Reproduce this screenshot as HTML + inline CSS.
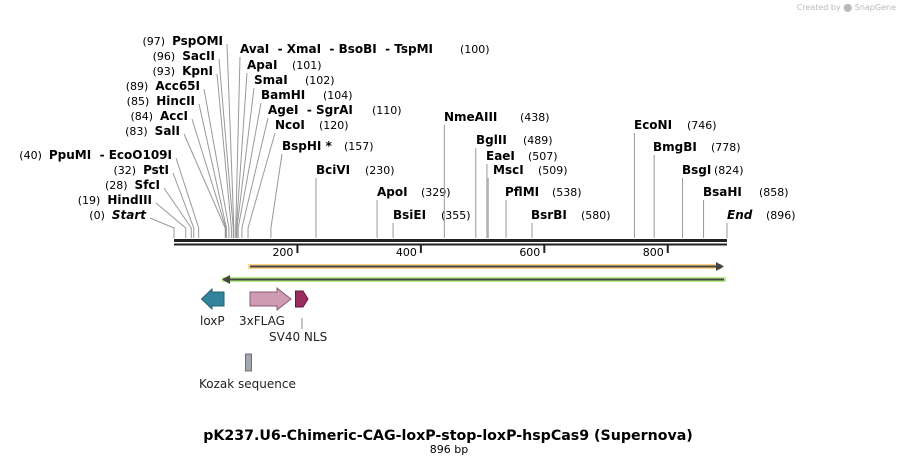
<!DOCTYPE html>
<html><head><meta charset="utf-8">
<style>
html,body{margin:0;padding:0;background:#fff;}
svg{display:block;font-family:"DejaVu Sans","Liberation Sans",sans-serif;}
svg text{white-space:pre;}
.n{font-weight:bold;font-size:12px;fill:#000;}
.p{font-size:11px;fill:#000;}
.f{font-size:12px;fill:#222;}
</style></head>
<body>
<svg id="map" width="902" height="465" viewBox="0 0 902 465">
<text x="896" y="10" text-anchor="end" font-size="8" fill="#bbb">Created by ⬤ SnapGene</text>
<g id="sites"></g>
<g id="ruler"></g>
<g>
  <rect x="248" y="264" width="474" height="5" fill="#fbd38a"/>
  <line x1="250" y1="266.5" x2="718" y2="266.5" stroke="#444" stroke-width="2"/>
  <polygon points="716,262 724,266.5 716,271" fill="#444"/>
  <rect x="222" y="277" width="504" height="5" fill="#b7ef84"/>
  <line x1="228" y1="279.5" x2="724" y2="279.5" stroke="#444" stroke-width="2"/>
  <polygon points="230,275 222,279.5 230,284" fill="#444"/>
  <polygon points="224,292 212,292 212,289 201.5,299 212,309 212,306 224,306" fill="#31849b" stroke="#23606f"/>
  <polygon points="250,292 277,292 277,288 291,299 277,310 277,306 250,306" fill="#cf9ab4" stroke="#8a5a72"/>
  <polygon points="295.5,291 303,291 308,299 303,307 295.5,307" fill="#9b2c5e" stroke="#5e1a38"/>
  <text x="200" y="325" class="f">loxP</text>
  <text x="239" y="325" class="f">3xFLAG</text>
  <line x1="302" y1="318" x2="302" y2="329" stroke="#888"/>
  <text x="269" y="341" class="f">SV40 NLS</text>
  <rect x="245.5" y="354" width="6" height="17" fill="#a3a8b0" stroke="#555" stroke-width="0.8"/>
  <text x="199" y="388" class="f">Kozak sequence</text>
</g>
<text x="448" y="440" text-anchor="middle" font-weight="bold" font-size="14.2" fill="#000">pK237.U6-Chimeric-CAG-loxP-stop-loxP-hspCas9 (Supernova)</text>
<text x="449" y="453" text-anchor="middle" font-size="11" fill="#000">896 bp</text>
</svg>
<script>
const siteNames = ["Start","HindIII","SfcI","PstI","PpuMI  - EcoO109I","SalI","AccI","HincII","Acc65I","KpnI","SacII","PspOMI",
 "AvaI  - XmaI  - BsoBI  - TspMI","ApaI","SmaI","BamHI","AgeI  - SgrAI","NcoI","BspHI*","BciVI","ApoI","BsiEI",
 "NmeAIII","BglII","EaeI","MscI","PflMI","BsrBI","EcoNI","BmgBI","BsgI","BsaHI","End"];
const sitePositions = [0,19,28,32,40,83,84,85,89,93,96,97,100,101,102,104,110,120,157,230,329,355,438,489,507,509,538,580,746,778,824,858,896];
const tickValues = [200,400,600,800];
const seqLength = 896;
// label layout (not data): side, label x, label y, position-text x
const labelLayout = [
 ["L",146,215],["L",152,200],["L",160,185],["L",169,170],["L",172,155],["L",180,131],["L",188,116],["L",195,101],["L",200,86],["L",213,71],["L",215,56],["L",223,41],
 ["R",240,49,460],["R",247,65,292],["R",254,80,305],["R",261,95,323],["R",268,110,372],["R",275,125,319],["R",282,146,344],["V",316,170,365],["V",377,192,421],["V",393,215,441],
 ["V",444,117,520],["V",476,140,523],["V",486,156,528],["V",493,170,538],["V",505,192,552],["V",531,215,581],["V",634,125,687],["V",653,147,711],["V",682,170,714],["V",703,192,759],["V",727,215,766]];
const X0 = 174, XS = 553/896;
const xScale = bp => X0 + bp * XS;
const NS = "http://www.w3.org/2000/svg";
function mk(tag, attrs, parent){const e=document.createElementNS(NS,tag);for(const k in attrs)e.setAttribute(k,attrs[k]);parent.appendChild(e);return e;}
const sg = document.getElementById('sites');
siteNames.forEach((nm,i)=>{
  const [side,lx,ly,px] = labelLayout[i];
  const xs = xScale(sitePositions[i]);
  const g = mk('g',{},sg);
  
  
  let pts;
  if(side==='L') pts = `${lx+4},${ly+3} ${xs},228 ${xs},238`;
  else if(side==='R') pts = `${lx},${ly+8} ${xs},228 ${xs},238`;
  else pts = `${xs},${ly+8} ${xs},238`;
  mk('polyline',{points:pts,fill:'none',stroke:'#999','stroke-width':1},g);
  const italic = (nm==='Start'||nm==='End');
  const label = nm==='BspHI*' ? 'BspHI *' : nm;
  if(side==='L'){
    const t = mk('text',{x:lx,y:ly+4,'text-anchor':'end'},g);
    const a = mk('tspan',{class:'p'},t); a.textContent='('+sitePositions[i]+')  ';
    const b = mk('tspan',{class:'n','font-style':italic?'italic':'normal'},t); b.textContent=label;
  } else {
    const t = mk('text',{x:lx,y:ly+4,class:'n','font-style':italic?'italic':'normal'},g); t.textContent=label;
    const p = mk('text',{x:px,y:ly+4,class:'p'},g); p.textContent='('+sitePositions[i]+')';
  }
});
const rg = document.getElementById('ruler');
mk('rect',{x:xScale(0),y:239,width:xScale(seqLength)-xScale(0),height:3,fill:'#222'},rg);
mk('rect',{x:xScale(0),y:243.5,width:xScale(seqLength)-xScale(0),height:2,fill:'#222'},rg);
tickValues.forEach(v=>{
  const x = xScale(v);
  const l = mk('line',{x1:x,y1:245,x2:x,y2:253,stroke:'#222','stroke-width':2},rg);
  
  
  const t = mk('text',{x:x-4,y:256,'text-anchor':'end',class:'p'},rg);
  
  
  t.textContent = v;
});
</script>
</body></html>
